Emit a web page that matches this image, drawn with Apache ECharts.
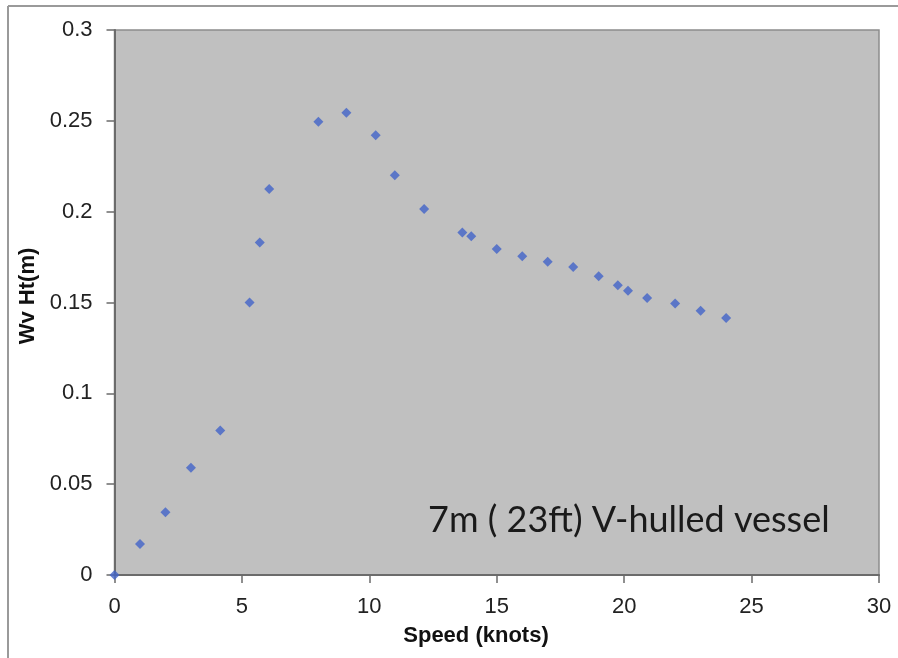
<!DOCTYPE html>
<html>
<head>
<meta charset="utf-8">
<script src="https://cdn.jsdelivr.net/npm/echarts@6/dist/echarts.min.js"></script>
<style>
html,body{margin:0;padding:0;background:#fff;}
#chart{width:898px;height:658px;}
</style>
</head>
<body>
<div id="chart"></div>
<script>
const speedKnots = [0, 1.0, 2.0, 3.0, 4.15, 5.3, 5.7, 6.07, 8.0, 9.1, 10.25, 11.0, 12.15, 13.65, 14.0, 15.0, 16.0, 17.0, 18.0, 19.0, 19.75, 20.15, 20.9, 22.0, 23.0, 24.0];
const waveHeight = [0, 0.017, 0.0345, 0.059, 0.0795, 0.150, 0.183, 0.2125, 0.2495, 0.2545, 0.242, 0.220, 0.2015, 0.1885, 0.1865, 0.1795, 0.1755, 0.1725, 0.1695, 0.1645, 0.1595, 0.1565, 0.1525, 0.1495, 0.1455, 0.1415];
const xTicks = [0, 5, 10, 15, 20, 25, 30];
const yTicks = [0, 0.05, 0.1, 0.15, 0.2, 0.25, 0.3];
const xTitle = 'Speed (knots)';
const yTitle = 'Wv Ht(m)';
const note = '7m ( 23ft) V-hulled vessel';

const points = speedKnots.map((s, i) => [s, waveHeight[i]]);
const chart = echarts.init(document.getElementById('chart'), null, {renderer: 'canvas'});
const labelFont = {fontFamily: 'Liberation Sans, Arial, sans-serif', fontSize: 22, color: '#222'};
chart.setOption({
  backgroundColor: '#ffffff',
  animation: false,
  grid: {left: 114.5, right: 19, top: 30, bottom: 83, show: true, backgroundColor: '#c0c0c0', borderColor: '#8c8c8c', borderWidth: 1.5},
  xAxis: {
    type: 'value', min: xTicks[0], max: xTicks[xTicks.length - 1], interval: 5,
    axisLine: {show: true, onZero: false, lineStyle: {color: '#6b6b6b', width: 2}},
    axisTick: {show: true, inside: false, length: 8, lineStyle: {color: '#6b6b6b', width: 1.5}},
    splitLine: {show: false},
    axisLabel: Object.assign({margin: 21}, labelFont)
  },
  yAxis: {
    type: 'value', min: yTicks[0], max: yTicks[yTicks.length - 1], interval: 0.05,
    axisLine: {show: true, onZero: false, lineStyle: {color: '#6b6b6b', width: 2}},
    axisTick: {show: true, inside: false, length: 8, lineStyle: {color: '#6b6b6b', width: 1.5}},
    splitLine: {show: false},
    axisLabel: Object.assign({margin: 22, formatter: v => String(+v.toFixed(2))}, labelFont)
  },
  series: [{
    type: 'scatter',
    data: points,
    symbol: 'diamond',
    symbolSize: 10,
    itemStyle: {color: '#4163c8'},
    clip: false,
    z: 5
  }],
  graphic: [
    {type: 'line', shape: {x1: 8, y1: 6, x2: 898, y2: 6}, style: {stroke: '#9a9a9a', lineWidth: 2}, silent: true},
    {type: 'line', shape: {x1: 8, y1: 6, x2: 8, y2: 658}, style: {stroke: '#9a9a9a', lineWidth: 2}, silent: true},
    {type: 'text', style: {text: note, x: 428, y: 520, font: '36px Lato, "Open Sans", sans-serif', fill: '#1a1a1a', verticalAlign: 'middle', align: 'left'}, z: 10},
    {type: 'text', style: {text: xTitle, x: 476, y: 636, font: 'bold 22px "Liberation Sans", Arial, sans-serif', fill: '#111', verticalAlign: 'middle', align: 'center'}, z: 10},
    {type: 'text', x: 28, y: 296, rotation: Math.PI / 2, style: {text: yTitle, x: 0, y: 0, font: 'bold 22px "Liberation Sans", Arial, sans-serif', fill: '#111', verticalAlign: 'middle', align: 'center'}, z: 10}
  ]
});
</script>
</body>
</html>
